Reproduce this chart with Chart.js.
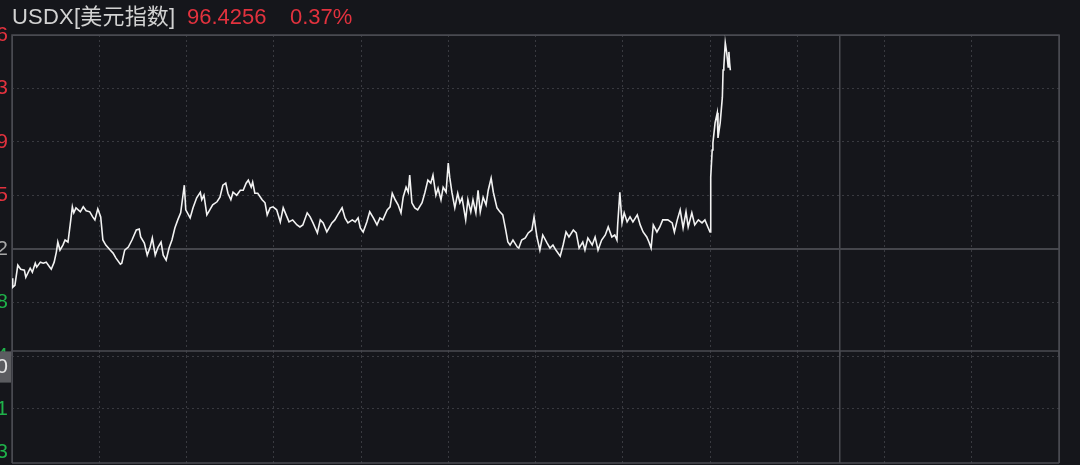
<!DOCTYPE html>
<html lang="zh-CN">
<head>
    <meta charset="UTF-8">
    <title>USDX 美元指数</title>
    <style>
        body {
            margin: 0;
            padding: 0;
            width: 1080px;
            height: 465px;
            overflow: hidden;
            background: #15161b;
            font-family: 'Liberation Sans', Arial, 'Noto Sans CJK SC', sans-serif;
            position: relative;
        }
        .title {
            position: absolute;
            top: 4px;
            font-size: 22px;
            line-height: 26px;
            white-space: nowrap;
            z-index: 2;
        }
        .name { left: 12px; color: #d2d2d2; letter-spacing: 0.2px; }
        .price { left: 187px; color: #e2323e; }
        .pct { left: 290px; color: #e2323e; }
        .box {
            position: absolute;
            left: -58px;
            width: 1118px;
        }
        #mainBox { top: 15px; height: 345px; }
        #subBox { top: 346px; height: 119px; }
    </style>
</head>
<body>
    <div class="title name">USDX[美元指数]</div>
    <div class="title price">96.4256</div>
    <div class="title pct">0.37%</div>

    <div class="box" id="mainBox"><canvas id="mainChart"></canvas></div>
    <div class="box" id="subBox"><canvas id="subChart"></canvas></div>

    <script src="https://cdn.jsdelivr.net/npm/chart.js"></script>
    <script>
        // minutes since session open
        const times = [
            0, 1, 4, 8, 12, 17, 19, 25, 28, 32, 34, 39, 43, 47, 52, 54, 58, 61, 63, 66,
            70, 73, 77, 80, 83, 85, 88, 94, 98, 102, 107, 111, 114, 118, 122, 125, 129, 135, 139, 143,
            149, 151, 155, 160, 165, 171, 175, 177, 182, 186, 190, 193, 197, 201, 205, 208, 212, 216, 220, 224,
            228, 232, 237, 239, 245, 249, 254, 259, 261, 264, 268, 272, 276, 282, 286, 290, 294, 297, 301, 304,
            309, 314, 318, 322, 325, 329, 331, 334, 338, 344, 348, 351, 355, 359, 364, 369, 373, 377, 381, 386,
            392, 396, 400, 406, 410, 414, 420, 424, 428, 433, 440, 444, 448, 454, 458, 462, 468, 472, 476, 479,
            483, 488, 492, 497, 502, 506, 510, 516, 520, 523, 527, 531, 535, 538, 542, 545, 547, 550, 554, 558,
            564, 568, 572, 576, 579, 583, 586, 590, 593, 597, 600, 602, 605, 609, 613, 616, 619, 624, 627, 631,
            634, 638, 641, 644, 648, 652, 655, 659, 662, 667, 671, 675, 679, 682, 685, 689, 695, 697, 701, 706,
            710, 715, 718, 722, 726, 730, 736, 740, 744, 748, 754, 758, 762, 766, 772, 776, 780, 785, 788, 792,
            798, 802, 806, 811, 816, 820, 825, 829, 832, 833, 836, 839, 842, 846, 850, 854, 860, 864, 868, 873,
            876, 879, 882, 887, 891, 895, 902, 908, 911, 915, 919, 923, 927, 930, 935, 939, 944, 949, 953, 957,
            960, 961, 963, 964, 967, 970, 971, 974, 977, 978, 979, 981, 983, 985, 986, 987, 988
        ];
        const prices = [
            96.012, 95.994, 95.998, 96.038, 96.030, 96.028, 96.014, 96.032, 96.024, 96.042, 96.034, 96.044, 96.042, 96.044, 96.034, 96.030, 96.044, 96.064, 96.084, 96.068,
            96.078, 96.088, 96.084, 96.118, 96.154, 96.142, 96.152, 96.144, 96.154, 96.146, 96.144, 96.134, 96.128, 96.150, 96.134, 96.088, 96.078, 96.068, 96.062, 96.052,
            96.040, 96.042, 96.068, 96.074, 96.088, 96.108, 96.110, 96.094, 96.082, 96.058, 96.074, 96.092, 96.058, 96.074, 96.084, 96.058, 96.048, 96.072, 96.088, 96.112,
            96.128, 96.142, 96.197, 96.148, 96.132, 96.152, 96.172, 96.183, 96.168, 96.177, 96.138, 96.148, 96.158, 96.164, 96.173, 96.197, 96.201, 96.181, 96.168, 96.183,
            96.177, 96.187, 96.187, 96.201, 96.207, 96.193, 96.203, 96.181, 96.181, 96.168, 96.162, 96.138, 96.152, 96.154, 96.148, 96.124, 96.152, 96.138, 96.124, 96.128,
            96.118, 96.114, 96.118, 96.142, 96.134, 96.122, 96.102, 96.128, 96.122, 96.104, 96.122, 96.128, 96.138, 96.152, 96.132, 96.122, 96.128, 96.124, 96.132, 96.112,
            96.104, 96.124, 96.144, 96.132, 96.118, 96.132, 96.128, 96.148, 96.154, 96.181, 96.168, 96.158, 96.142, 96.173, 96.193, 96.183, 96.217, 96.162, 96.152, 96.148,
            96.162, 96.183, 96.207, 96.201, 96.217, 96.177, 96.191, 96.168, 96.193, 96.183, 96.241, 96.213, 96.183, 96.152, 96.181, 96.162, 96.172, 96.128, 96.168, 96.144,
            96.168, 96.142, 96.187, 96.144, 96.173, 96.158, 96.187, 96.211, 96.183, 96.152, 96.144, 96.138, 96.108, 96.084, 96.078, 96.088, 96.074, 96.072, 96.088, 96.092,
            96.102, 96.108, 96.134, 96.094, 96.068, 96.098, 96.082, 96.072, 96.078, 96.068, 96.056, 96.078, 96.104, 96.094, 96.108, 96.102, 96.072, 96.084, 96.068, 96.092,
            96.078, 96.094, 96.068, 96.088, 96.098, 96.114, 96.094, 96.098, 96.088, 96.118, 96.183, 96.122, 96.142, 96.124, 96.134, 96.124, 96.138, 96.118, 96.104, 96.094,
            96.084, 96.072, 96.118, 96.104, 96.114, 96.128, 96.128, 96.122, 96.104, 96.128, 96.148, 96.112, 96.144, 96.114, 96.142, 96.118, 96.128, 96.122, 96.128, 96.114,
            96.104, 96.213, 96.267, 96.281, 96.321, 96.341, 96.291, 96.321, 96.372, 96.426, 96.432, 96.480, 96.460, 96.432, 96.462, 96.440, 96.4256
        ];

        const prevClose = 96.0702;
        const priceTicks = [96.4956, 96.3893, 96.2829, 96.1765, 96.0702, 95.9638, 95.8574];
        const priceLabels = ['96.4956', '96.3893', '96.2829', '96.1765', '96.0702', '95.9638', '95.8574'];
        const subTicks = [0, -0.0041, -0.0083];
        const subLabels = ['0', '-0.0041', '-0.0083'];
        const timeTicks = [0, 120, 240, 360, 480, 600, 720, 840, 960, 1080, 1139, 1200, 1320, 1440];
        const dayBreak = 1139;

        const RED = '#e2323e', GREEN = '#1fb24a', GREY = '#a8a8a8';
        const DOT = '#393a40', SOLID = '#4a4b51';

        const points = times.map((t, i) => ({ x: t, y: prices[i] }));

        function isSolidX(c) {
            return c.tick && (c.tick.value === dayBreak || c.tick.value === 0 || c.tick.value === 1440);
        }

        function xScale() {
            return {
                type: 'linear',
                min: 0,
                max: 1440,
                afterBuildTicks: s => { s.ticks = timeTicks.map(v => ({ value: v })); },
                afterFit: s => { s.height = 0; s.paddingLeft = 0; s.paddingRight = 0; },
                ticks: { display: false },
                grid: {
                    drawTicks: false,
                    color: c => isSolidX(c) ? SOLID : DOT,
                    lineWidth: c => (c.tick && c.tick.value === dayBreak) ? 1.5 : 1
                },
                border: {
                    display: false,
                    dash: c => isSolidX(c) ? [] : [2, 3]
                }
            };
        }

        // frame lines round the plot area
        const frame = {
            id: 'frame',
            beforeDatasetsDraw(chart, args, opts) {
                const a = chart.chartArea, ctx = chart.ctx;
                ctx.save();
                ctx.strokeStyle = SOLID;
                ctx.lineWidth = 1.5;
                ctx.beginPath();
                if (opts.bottom) {
                    ctx.moveTo(a.left, a.bottom); ctx.lineTo(a.right, a.bottom);
                }
                ctx.moveTo(a.left, a.bottom); ctx.lineTo(a.left, a.top);
                ctx.lineTo(a.right, a.top); ctx.lineTo(a.right, a.bottom);
                ctx.stroke();
                ctx.restore();
            }
        };

        new Chart(document.getElementById('mainChart'), {
            type: 'line',
            data: {
                datasets: [{
                    data: points,
                    borderColor: '#f2f2f2',
                    borderWidth: 1.6,
                    pointRadius: 0,
                    tension: 0
                }]
            },
            options: {
                responsive: true,
                maintainAspectRatio: false,
                animation: false,
                layout: { padding: { top: 20, bottom: 4, right: 1 } },
                plugins: { legend: { display: false }, tooltip: { enabled: false }, frame: { bottom: false } },
                scales: {
                    x: xScale(),
                    y: {
                        min: priceTicks[6],
                        max: priceTicks[0],
                        afterBuildTicks: s => { s.ticks = priceTicks.map(v => ({ value: v })); },
                        afterFit: s => { s.width = 70; s.paddingTop = 0; s.paddingBottom = 0; },
                        ticks: {
                            padding: 4,
                            font: { size: 21, family: "'Liberation Sans', Arial, sans-serif" },
                            color: c => c.tick.value > prevClose + 1e-6 ? RED : (Math.abs(c.tick.value - prevClose) < 1e-6 ? GREY : GREEN),
                            callback: (v, i) => priceLabels[i]
                        },
                        grid: {
                            drawTicks: false,
                            color: c => (c.tick && Math.abs(c.tick.value - prevClose) < 1e-6) ? '#45464c' : (c.index === 0 ? SOLID : DOT),
                            lineWidth: c => (c.tick && Math.abs(c.tick.value - prevClose) < 1e-6) ? 2 : 1
                        },
                        border: {
                            display: false,
                            dash: c => (c.tick && (Math.abs(c.tick.value - prevClose) < 1e-6 || c.index === 0)) ? [] : [2, 3]
                        }
                    }
                }
            },
            plugins: [frame]
        });

        new Chart(document.getElementById('subChart'), {
            type: 'line',
            data: { datasets: [{ data: [], pointRadius: 0 }] },
            options: {
                responsive: true,
                maintainAspectRatio: false,
                animation: false,
                layout: { padding: { top: 5, bottom: 2, right: 1 } },
                plugins: { legend: { display: false }, tooltip: { enabled: false }, frame: { bottom: true } },
                scales: {
                    x: xScale(),
                    y: {
                        min: -0.00937,
                        max: 0.00156,
                        afterBuildTicks: s => { s.ticks = subTicks.map(v => ({ value: v })); },
                        afterFit: s => { s.width = 70; s.paddingTop = 0; s.paddingBottom = 0; },
                        ticks: {
                            padding: 4,
                            font: { size: 21, family: "'Liberation Sans', Arial, sans-serif" },
                            color: c => c.index === 0 ? '#e8e8e8' : GREEN,
                            showLabelBackdrop: c => c.index === 0,
                            backdropColor: '#5b5c60',
                            backdropPadding: { top: 3, bottom: 3, left: 2, right: 3 },
                            callback: (v, i) => subLabels[i]
                        },
                        grid: {
                            drawTicks: false,
                            color: c => c.index === 1 ? DOT : 'rgba(0,0,0,0)'
                        },
                        border: { display: false, dash: [2, 3] }
                    }
                }
            },
            plugins: [frame]
        });
    </script>
</body>
</html>
